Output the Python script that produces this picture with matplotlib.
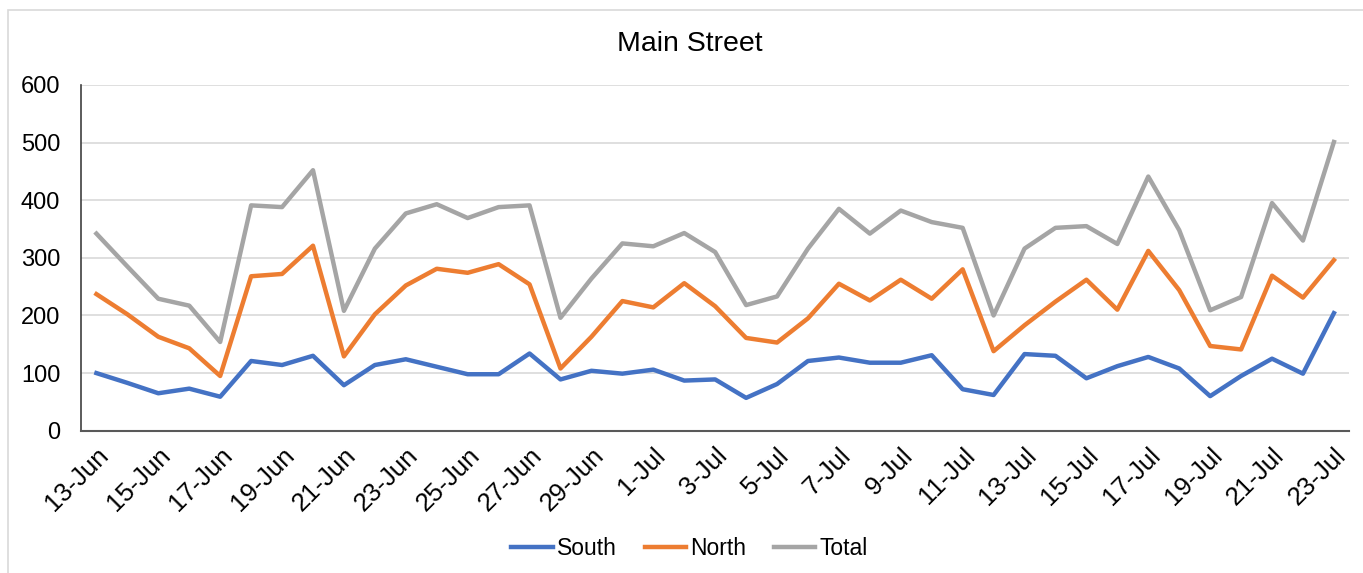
import numpy as np
import pandas as pd
import matplotlib
matplotlib.use("Agg")
import matplotlib.pyplot as plt

plt.rcParams['font.family'] = ['Liberation Sans', 'DejaVu Sans']

# daily counts, 13-Jun to 23-Jul
dates = pd.date_range("2023-06-13", "2023-07-23", freq="D")
south = [100, 83, 65, 73, 59, 121, 114, 130, 79, 114, 124, 111,
         98, 98, 134, 89, 104, 99, 106, 87, 89, 57, 81, 121, 127, 118,
         118, 131, 72, 62, 133, 130, 91, 112, 128, 108, 60, 95, 125, 99, 204]
north = [237, 202, 163, 143, 95, 268, 272, 321, 129, 202, 252, 281,
         274, 289, 254, 108, 163, 225, 214, 256, 216, 161, 153, 195, 255, 226,
         262, 229, 280, 138, 183, 224, 262, 210, 312, 244, 147, 141, 269, 231, 296]
total = [342, 285, 229, 217, 154, 391, 388, 452, 208, 316, 377, 393,
         369, 388, 391, 196, 264, 325, 320, 343, 310, 218, 233, 316, 385, 342,
         382, 362, 352, 200, 316, 352, 355, 324, 441, 348, 209, 232, 395, 330, 501]

labels = [f"{d.day}-{d.strftime('%b')}" for d in dates]
x = np.arange(len(dates))

fig = plt.figure(figsize=(13.63, 5.73), dpi=100)
ax = fig.add_axes([0.0594, 0.2483, 0.9306, 0.6035])

ax.plot(x, south, color='#4472C4', lw=3.2, label='South', solid_joinstyle='round')
ax.plot(x, north, color='#ED7D31', lw=3.2, label='North', solid_joinstyle='round')
ax.plot(x, total, color='#A5A5A5', lw=3.2, label='Total', solid_joinstyle='round')

ax.set_xlim(-0.5, len(x) - 0.5)
ax.set_ylim(0, 600)
ax.set_yticks(np.arange(0, 601, 100))
ax.set_xticks(x[::2])
ax.set_xticklabels(labels[::2], rotation=45, ha='right', va='top',
                   rotation_mode='anchor', fontsize=18.5)
ax.tick_params(axis='y', labelsize=17, length=0, pad=15)
ax.tick_params(axis='x', length=0, pad=9)

ax.grid(axis='y', color='#D9D9D9', lw=1.2)
ax.set_axisbelow(True)
for s in ['top', 'right']:
    ax.spines[s].set_visible(False)
ax.spines['left'].set_color('#404040')
ax.spines['bottom'].set_color('#595959')
ax.spines['left'].set_linewidth(1.2)
ax.spines['bottom'].set_linewidth(1.5)

fig.text(0.506, 0.923, 'Main Street', ha='center', va='center', fontsize=20.5)

fig.legend(loc='center', bbox_to_anchor=(0.506, 0.043), ncol=3, frameon=False,
           fontsize=16.5, handlelength=1.8, handletextpad=0.2, columnspacing=1.2)

# chart border (cropped at right and bottom in the reference)
border = plt.Rectangle((8 / 1363, -0.05), 1.1, (573 - 10) / 573 + 0.05,
                       transform=fig.transFigure, fill=False,
                       edgecolor='#D9D9D9', lw=1.2)
fig.add_artist(border)

fig.savefig('out.png', dpi=100)
